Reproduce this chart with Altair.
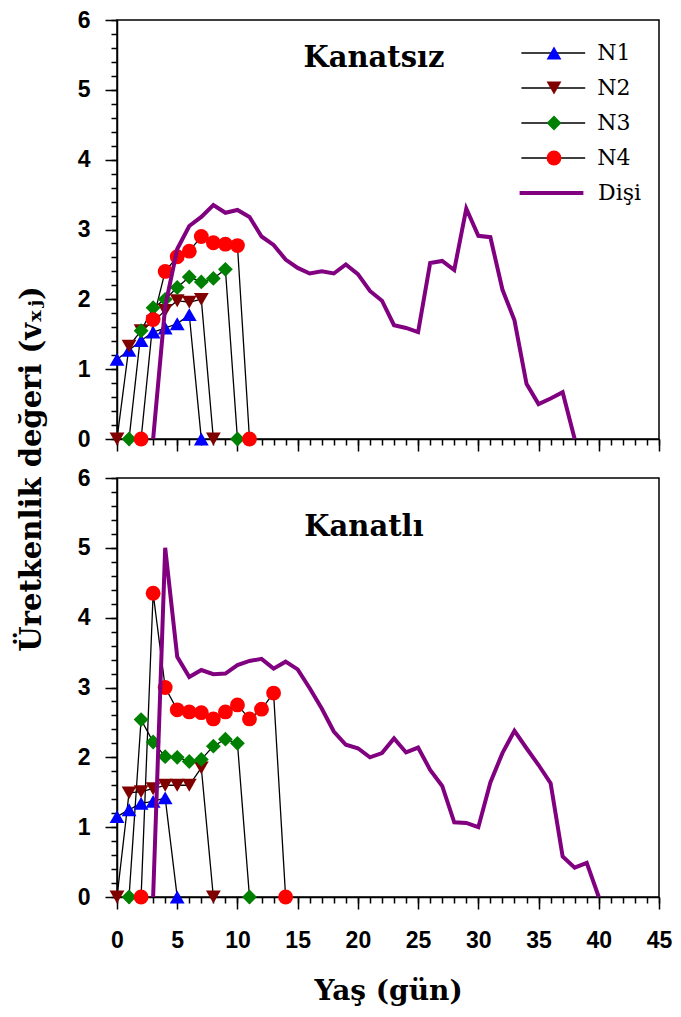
import altair as alt
import pandas as pd

n_names = ["N1", "N2", "N3", "N4"]
marker_keys = ["m1", "m2", "m3", "m4"]
female_name = ["Dişi"]
marker_colors = ["#0000FF", "#800000", "#008000", "#FF0000"]
marker_shapes = ["triangle-up", "triangle-down", "diamond", "circle"]

# ---- Kanatsız (top panel): start age and values per series ----
top_n1_start = 0
top_n1 = [1.14, 1.27, 1.41, 1.53, 1.59, 1.65, 1.78, 0.0]
top_n2_start = 0
top_n2 = [0.0, 1.33, 1.55, 1.68, 1.84, 1.98, 1.96, 2.00, 0.0]
top_n3_start = 1
top_n3 = [0.0, 1.55, 1.88, 2.00, 2.17, 2.32, 2.25, 2.30, 2.43, 0.0]
top_n4_start = 2
top_n4 = [0.0, 1.71, 2.40, 2.61, 2.69, 2.90, 2.81, 2.79, 2.77, 0.0]
top_female_start = 3
top_female = [0.0, 1.90, 2.72, 3.05, 3.18, 3.35, 3.24, 3.28, 3.18, 2.90,
              2.78, 2.57, 2.45, 2.37, 2.40, 2.37, 2.50, 2.36, 2.12, 1.98,
              1.63, 1.59, 1.53, 2.52, 2.55, 2.42, 3.30, 2.91, 2.89, 2.14,
              1.70, 0.79, 0.50, 0.58, 0.67, 0.0]

# ---- Kanatlı (bottom panel) ----
bot_n1_start = 0
bot_n1 = [1.15, 1.25, 1.34, 1.37, 1.42, 0.0]
bot_n2_start = 0
bot_n2 = [0.0, 1.49, 1.51, 1.55, 1.60, 1.60, 1.60, 1.85, 0.0]
bot_n3_start = 1
bot_n3 = [0.0, 2.54, 2.22, 2.01, 2.00, 1.94, 1.97, 2.16, 2.26, 2.20, 0.0]
bot_n4_start = 2
bot_n4 = [0.0, 4.35, 3.00, 2.68, 2.65, 2.64, 2.55, 2.65, 2.75, 2.55, 2.69, 2.92, 0.0]
bot_female_start = 3
bot_female = [0.0, 5.00, 3.44, 3.15, 3.25, 3.19, 3.20, 3.32, 3.38, 3.41,
              3.27, 3.37, 3.26, 2.99, 2.70, 2.37, 2.18, 2.13, 2.00, 2.06,
              2.27, 2.07, 2.14, 1.82, 1.59, 1.07, 1.06, 1.00, 1.64, 2.06,
              2.38, 2.13, 1.89, 1.63, 0.58, 0.42, 0.49, 0.0]

y_major = [0, 1, 2, 3, 4, 5, 6]
y_minor = [round(i * 0.2, 1) for i in range(31)]
x_major = [0, 5, 10, 15, 20, 25, 30, 35, 40, 45]
x_minor = list(range(46))

marker_of = dict(zip(n_names, marker_keys))
rows = []
def add(panel, name, start, vals):
    for i, v in enumerate(vals):
        rows.append({"panel": panel, "series": name,
                     "marker": marker_of.get(name, name), "grp": name,
                     "age": start + i, "value": v})

add("top", "N1", top_n1_start, top_n1)
add("top", "N2", top_n2_start, top_n2)
add("top", "N3", top_n3_start, top_n3)
add("top", "N4", top_n4_start, top_n4)
add("top", "Dişi", top_female_start, top_female)
add("bot", "N1", bot_n1_start, bot_n1)
add("bot", "N2", bot_n2_start, bot_n2)
add("bot", "N3", bot_n3_start, bot_n3)
add("bot", "N4", bot_n4_start, bot_n4)
add("bot", "Dişi", bot_female_start, bot_female)
df = pd.DataFrame(rows)

SANS = "Liberation Sans"
SERIF = "DejaVu Serif"
W = 542
H = 419
LX = 426
LY = 22
ROW = 35
LABEL = 23

common = dict(tickColor="black", tickWidth=1.5, domainColor="black", domainWidth=1.5, grid=False)


def make_panel(panel, title_text, title_dx, title_offset, bottom, legend):
    d = df[df["panel"] == panel]
    base = alt.Chart(d)
    xs = alt.Scale(domain=[0, 45], nice=False, zero=False)
    ys = alt.Scale(domain=[0, 6], nice=False)

    if bottom:
        x_major_axis = alt.Axis(orient="bottom", values=x_major, format="d", tickSize=12,
                                labelFont=SANS, labelFontWeight="bold", labelFontSize=LABEL,
                                labelColor="black", labelPadding=20, labelFlush=False,
                                title="Yaş (gün)", titleFont=SERIF, titleFontWeight="bold",
                                titleFontSize=28, titleColor="black", titlePadding=25, **common)
    else:
        x_major_axis = alt.Axis(orient="bottom", values=x_major, labels=False, tickSize=12,
                                title=None, **common)
    x_minor_axis = alt.Axis(orient="bottom", values=x_minor, labels=False, tickSize=6,
                            domain=False, title=None, tickColor="black", tickWidth=1.5, grid=False)
    y_major_axis = alt.Axis(orient="left", values=y_major, format="d", tickSize=12,
                            labelFont=SANS, labelFontWeight="bold", labelFontSize=LABEL,
                            labelColor="black", labelPadding=15, labelFlush=False,
                            title=None, **common)
    y_minor_axis = alt.Axis(orient="left", values=y_minor, labels=False, tickSize=6,
                            domain=False, title=None, tickColor="black", tickWidth=1.5, grid=False)

    leg_common = dict(title=None, orient="none", symbolSize=220,
                      labelFont=SERIF, labelFontSize=22, labelColor="black",
                      rowPadding=ROW - 22, padding=0)
    if legend:
        leg_a = alt.Legend(legendX=LX - 0.7, legendY=LY, labelOffset=33,
                           symbolType="M-4.3,0H4.3", symbolStrokeColor="black",
                           symbolFillColor="transparent", symbolStrokeWidth=1.3, **leg_common)
        leg_b = alt.Legend(legendX=LX, legendY=LY, labelOffset=39, labelExpr="' '",
                           symbolStrokeWidth=0, **leg_common)
        leg_c = alt.Legend(legendX=LX - 2.5, legendY=LY + 4 * ROW, labelOffset=35.5,
                           symbolType="M-4.3,0H4.3",
                           symbolFillColor="transparent", symbolStrokeWidth=4, **leg_common)
    else:
        leg_a = leg_b = leg_c = None

    n_lines = base.transform_filter("datum.series != 'Dişi'").mark_line(
        strokeWidth=1.3, color="black").encode(
        x=alt.X("age:Q", scale=xs, axis=x_major_axis),
        y=alt.Y("value:Q", scale=ys, axis=y_major_axis),
        strokeDash=alt.StrokeDash("series:N",
                                  scale=alt.Scale(domain=n_names, range=[[1, 0]] * 4),
                                  legend=leg_a))
    n_points = base.transform_filter("datum.series != 'Dişi'").mark_point(
        filled=True, size=220, opacity=1, strokeWidth=0).encode(
        x=alt.X("age:Q", scale=xs, axis=x_minor_axis),
        y=alt.Y("value:Q", scale=ys, axis=y_minor_axis),
        fill=alt.Fill("marker:N", scale=alt.Scale(domain=marker_keys, range=marker_colors), legend=leg_b),
        shape=alt.Shape("marker:N", scale=alt.Scale(domain=marker_keys, range=marker_shapes), legend=leg_b))
    female = base.transform_filter("datum.series == 'Dişi'").mark_line(strokeWidth=4).encode(
        x=alt.X("age:Q", scale=xs, axis=None),
        y=alt.Y("value:Q", scale=ys, axis=None),
        color=alt.Color("grp:N", scale=alt.Scale(domain=female_name, range=["#800080"]),
                        legend=leg_c))

    return alt.layer(n_lines, n_points, female).resolve_axis(
        x="independent", y="independent"
    ).properties(
        width=W, height=H,
        title=alt.TitleParams(title_text, font=SERIF, fontWeight="bold", fontSize=29,
                              color="black", anchor="middle", frame="group",
                              offset=title_offset, dx=title_dx))


top = make_panel("top", "Kanatsız", -14, -64, False, True)
bot = make_panel("bot", "Kanatlı", -24, -75, True, False)

chart = alt.vconcat(top, bot, spacing=39, bounds="flush").resolve_legend(
    strokeDash="independent", fill="independent", shape="independent", color="independent"
).properties(
    title=alt.TitleParams("Üretkenlik değeri (vₓⱼ)", orient="left", anchor="middle",
                          font=SERIF, fontWeight="bold", fontSize=29, color="black",
                          offset=29, dx=38),
    padding={"left": 10, "top": 0, "right": 0, "bottom": 2},
    background="white",
).configure_view(stroke="black", strokeWidth=1.5)

chart.save("out.html", embed_options={"renderer": "svg", "actions": False})
